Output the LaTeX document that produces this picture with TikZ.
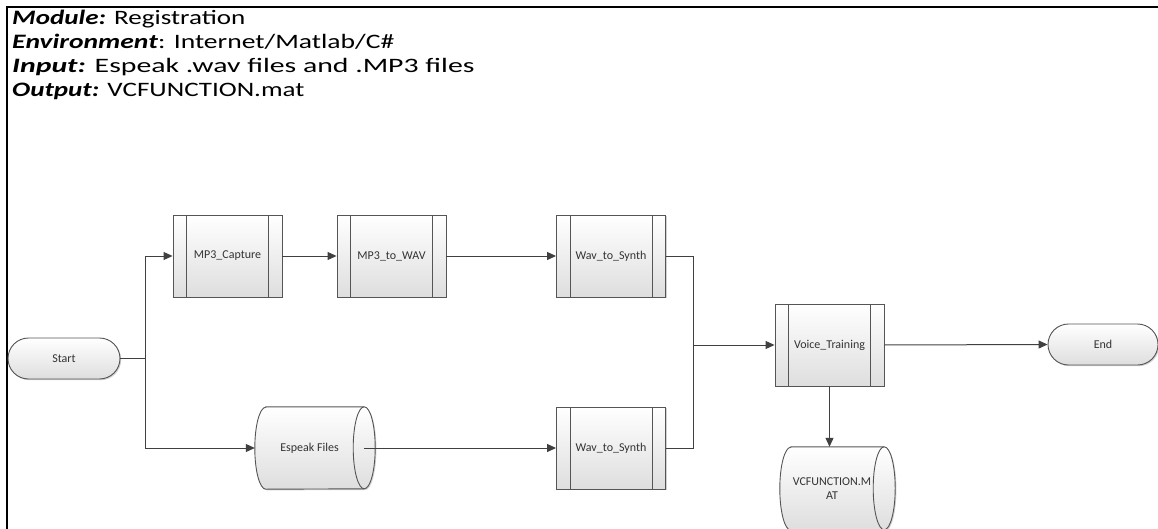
\documentclass[tikz,border=0pt]{standalone}
\usepackage{fontspec}
\setmainfont{Carlito}
\newfontfamily\headfont{Carlito}[FakeStretch=1.32]
\usetikzlibrary{arrows.meta,calc,shadows}
\pgfdeclarelayer{back}
\pgfsetlayers{back,main}
\definecolor{edgegrey}{HTML}{555555}
\definecolor{linegrey}{HTML}{404040}
\definecolor{labelgrey}{HTML}{333333}
\tikzset{
  shapefill/.style={top color=white, bottom color=black!13},
  softshadow/.style={drop shadow={shadow xshift=1.2pt, shadow yshift=-1.2pt, opacity=.18, fill=black}},
  label text/.style={font=\fontsize{12}{13.5}\selectfont, text=labelgrey},
  process/.style={draw=edgegrey, line width=.9pt, shapefill, softshadow, label text,
    minimum width=109pt, minimum height=82pt, inner sep=0pt,
    path picture={\draw[edgegrey, line width=.9pt]
      ([xshift=13.5pt]path picture bounding box.north west) -- ([xshift=13.5pt]path picture bounding box.south west)
      ([xshift=-13.5pt]path picture bounding box.north east) -- ([xshift=-13.5pt]path picture bounding box.south east);}},
  terminal/.style={draw=edgegrey, line width=.9pt, shapefill, softshadow, label text,
    rounded corners=20.5pt, minimum width=112pt, minimum height=41pt, inner sep=0pt},
  store/.style={label text, minimum width=109pt, minimum height=82pt, inner sep=0pt, align=center},
  link/.style={draw=linegrey, line width=1pt},
  flow/.style={link, -{Triangle[length=9pt,width=8pt]}},
  header/.style={anchor=base west, inner sep=0pt, font=\headfont\fontsize{20.5}{23.5}\selectfont},
}
% data store: body spans the node, right end ellipse centred on the east side
\newcommand\drawstore[3]{%
  \path[draw=edgegrey, line width=.9pt, shapefill, softshadow]
    ([xshift=#2]#1.north west) -- (#1.north east)
    arc[start angle=90, end angle=-90, x radius=#2, y radius=#3]
    -- ([xshift=#2]#1.south west)
    arc[start angle=270, end angle=90, x radius=#2, y radius=#3] -- cycle;
  \draw[edgegrey, line width=.9pt] (#1.north east)
    arc[start angle=90, end angle=270, x radius=#2, y radius=#3];
}
\begin{document}
\begin{tikzpicture}[x=1pt, y=1pt]
\useasboundingbox (0,0) rectangle (1158,-529);

% frame
\draw[line width=1.5pt] (7,-529) -- (7,-7) -- (1158,-7);

% header
\node[header] (h1) at (12,-24.5) {\textbf{\textit{Module:}} Registration};
\node[header] (h2) at (12,-48.5) {\scalebox{1.02}[1]{\textbf{\textit{Environment}}: Internet/Matlab/C\#}};
\node[header] (h3) at (12,-72.5) {\scalebox{1.1}[1]{\textbf{\textit{Input:}} Espeak .wav files and .MP3 files}};
\node[header] (h4) at (12,-96.5) {\textbf{\textit{Output:}} VCFUNCTION.mat};

% flow nodes
\node[terminal] (start) at (64,-358.5) {Start};
\node[process] (cap)    at (227.5,-256) {MP3\_Capture};
\node[process] (mp3wav) at (391.5,-256) {MP3\_to\_WAV};
\node[process] (synth1) at (611,-256)   {Wav\_to\_Synth};
\node[store]   (esp)    at (309.5,-448) {Espeak Files};
\node[process] (synth2) at (611,-448)   {Wav\_to\_Synth};
\node[process] (train)  at (829.5,-345) {Voice\_Training};
\node[store, minimum width=104pt, minimum height=83pt] (vcf) at (832,-488.5) {VCFUNCTION.M\\AT};
\node[terminal, minimum width=110pt] (end) at (1103,-344.5) {End};

\begin{pgfonlayer}{back}
  \drawstore{esp}{11pt}{41pt}
  \drawstore{vcf}{11pt}{41.5pt}
\end{pgfonlayer}

% connectors
\draw[link] (start.east) -- ++(25,0) coordinate (fork);
\draw[flow] (fork) |- (cap.west);
\draw[flow] (fork) |- (esp.west);
\draw[flow] (cap.east) -- (mp3wav.west);
\draw[flow] (mp3wav.east) -- (synth1.west);
\draw[flow] (esp.east) -- (synth2.west);
\coordinate (merge) at (693,-345);
\draw[link] (synth1.east) -| (merge) |- (synth2.east);
\draw[flow] (merge) -- (train.west);
\draw[flow] (train.south) -- (train.south |- vcf.north);
\draw[flow] (train.east) -- (end.west);
\end{tikzpicture}
\end{document}
